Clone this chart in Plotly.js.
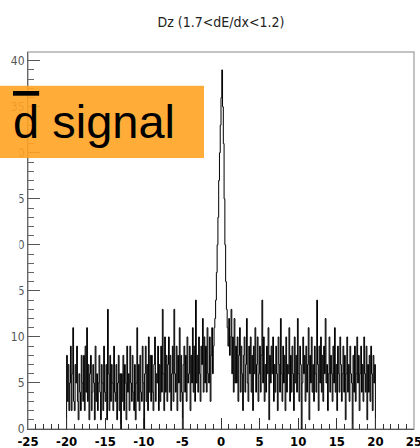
<!DOCTYPE html>
<html>
<head>
<meta charset="utf-8">
<script src="https://cdn.plot.ly/plotly-3.0.1.min.js"></script>
<style>html,body{margin:0;padding:0;background:#fff;}#chart{width:420px;height:448px;}</style>
</head>
<body>
<div id="chart"></div>
<script>
// Histogram of Dz, 400 bins of width 0.1 from -20 to 20
const binStart = -20;
const binWidth = 0.1;
const counts = [
  8, 3, 7, 2, 5, 9, 2, 6, 11, 3,
  2, 7, 5, 9, 3, 1, 6, 4, 2, 8,
  5, 3, 8, 2, 9, 4, 11, 3, 7, 1,
  6, 8, 2, 4, 7, 5, 1, 9, 3, 6,
  2, 5, 8, 4, 1, 7, 5, 2, 9, 4,
  3, 7, 1, 13, 6, 2, 8, 3, 7, 5,
  2, 9, 4, 3, 7, 1, 5, 8, 2, 6,
  0, 6, 3, 8, 2, 7, 5, 1, 9, 4,
  6, 2, 9, 5, 3, 8, 4, 2, 7, 1,
  5, 11, 3, 7, 2, 8, 4, 3, 9, 5,
  0, 6, 9, 3, 7, 2, 10, 4, 8, 3,
  8, 4, 2, 7, 10, 3, 6, 5, 9, 2,
  7, 3, 9, 4, 13, 6, 2, 10, 4, 8,
  3, 7, 10, 4, 8, 2, 6, 9, 3, 13,
  6, 4, 9, 2, 8, 5, 11, 3, 8, 4,
  0, 7, 9, 4, 8, 3, 10, 5, 6, 9,
  2, 8, 5, 11, 4, 9, 3, 14, 5, 8,
  4, 10, 6, 3, 9, 7, 12, 4, 10, 5,
  9, 4, 11, 6, 5, 10, 3, 8, 11, 6,
  9, 11, 12, 14, 17, 20, 23, 27, 30, 33,
  36, 39, 35, 31, 25, 20, 16, 13, 11, 9,
  12, 8,
  10, 13, 6, 10, 4, 12, 5, 9,
  5, 10, 3, 8, 11, 4, 9, 6, 2, 8,
  10, 4, 7, 12, 5, 3, 9, 6, 10, 4,
  8, 2, 9, 6, 11, 4, 7, 10, 3, 6,
  9, 4, 8, 14, 5, 10, 3, 7, 4, 9,
  6, 11, 1, 8, 5, 9, 6, 10, 3, 7,
  4, 9, 6, 2, 10, 7, 4, 12, 6, 3,
  9, 5, 8, 2, 10, 4, 7, 6, 11, 3,
  8, 4, 9, 6, 2, 10, 5, 8, 4, 12,
  6, 3, 9, 7, 0, 5, 10, 6, 8, 3,
  9, 4, 7, 11, 1, 8, 5, 10, 4, 7,
  3, 9, 6, 4, 14, 7, 2, 9, 5, 10,
  4, 8, 3, 9, 6, 12, 5, 7, 2, 6,
  10, 4, 8, 6, 3, 9, 5, 11, 4, 7,
  2, 9, 6, 4, 10, 7, 3, 6, 9, 4,
  8, 1, 6, 10, 4, 7, 3, 9, 6, 5,
  0, 8, 4, 9, 3, 6, 10, 5, 8, 2,
  6, 9, 4, 7, 3, 10, 6, 4, 9, 1,
  7, 4, 8, 3, 9, 6, 2, 8, 5, 7
];
const titleText = 'Dz (1.7&lt;dE/dx&lt;1.2)';
const labelText = '<span style="text-decoration:overline">d</span> signal';
const xRange = [-25, 25];
const yRange = [0, 40.95];
const xTickVals = [-25, -20, -15, -10, -5, 0, 5, 10, 15, 20, 25];
const xTickText = ['-25', '-20', '-15', '-10', '-5', '0', '5', '10', '15', '20', '25'];

// build step outline (ROOT-style histogram)
const xs = [binStart];
const ys = [0];
for (let i = 0; i < counts.length; i++) {
  xs.push(binStart + i * binWidth);
  ys.push(counts[i]);
}
const binEnd = binStart + counts.length * binWidth;
xs.push(binEnd); ys.push(counts[counts.length - 1]);
xs.push(binEnd); ys.push(0);

const narrow = '"DejaVu Sans Condensed", "Liberation Sans Narrow", "Arial Narrow", sans-serif';

const trace = {
  type: 'scatter', mode: 'lines',
  x: xs, y: ys,
  line: {shape: 'hv', color: '#000', width: 1},
  hoverinfo: 'skip', showlegend: false
};

const W = 386, H = 377, L = 28, T = 52;
const px = v => (v - L) / W;
const py = v => (T + H - v) / H;

const layout = {
  width: 420, height: 448,
  margin: {l: L, r: 6, t: T, b: 19},
  paper_bgcolor: '#fff', plot_bgcolor: '#fff',
  showlegend: false,
  title: {
    text: titleText,
    font: {family: narrow, size: 14, color: '#222'},
    x: 0.5, xref: 'paper', xanchor: 'center',
    y: 1 - 22 / 448, yref: 'container', yanchor: 'middle'
  },
  xaxis: {
    range: xRange, tickmode: 'array', tickvals: xTickVals, ticktext: xTickText,
    ticklabeloverflow: 'allow',
    ticks: 'inside', ticklen: 11, tickwidth: 1, tickcolor: '#333',
    minor: {tickmode: 'linear', tick0: 0, dtick: 1, ticks: 'inside', ticklen: 5, tickcolor: '#333', showgrid: false},
    showgrid: false, zeroline: false,
    showline: true, linecolor: '#555', linewidth: 1,
    tickfont: {family: narrow, size: 13, color: '#000', weight: 700}
  },
  yaxis: {
    range: yRange, dtick: 5, tick0: 0,
    ticklabeloverflow: 'allow',
    ticks: 'inside', ticklen: 12, tickwidth: 1, tickcolor: '#555',
    minor: {dtick: 1, ticks: 'inside', ticklen: 6, tickcolor: '#666', showgrid: false},
    showgrid: false, zeroline: false,
    showline: true, linecolor: '#666', linewidth: 1,
    tickfont: {family: narrow, size: 12, color: '#555'}
  },
  shapes: [
    {type: 'rect', xref: 'paper', yref: 'paper', x0: 0, x1: 1, y0: 0, y1: 1,
     line: {color: '#b0b0b0', width: 1.5}, fillcolor: 'rgba(0,0,0,0)', layer: 'below'},
    {type: 'rect', xref: 'paper', yref: 'y', x0: px(-4), x1: px(19.5), y0: 11.6, y1: 32,
     line: {width: 0}, fillcolor: '#fff', layer: 'above'},
    {type: 'rect', xref: 'paper', yref: 'paper', x0: px(0), x1: px(204), y0: py(158), y1: py(85.7),
     line: {width: 0}, fillcolor: 'rgba(255,163,35,0.9)', layer: 'above'}
  ],
  annotations: [
    {text: labelText, xref: 'paper', yref: 'paper', x: px(11), y: py(121),
     xanchor: 'left', yanchor: 'middle', showarrow: false,
     font: {family: '"Liberation Sans", Arial, sans-serif', size: 47, color: '#000'}}
  ]
};

Plotly.newPlot('chart', [trace], layout, {staticPlot: true, displayModeBar: false});
</script>
</body>
</html>
